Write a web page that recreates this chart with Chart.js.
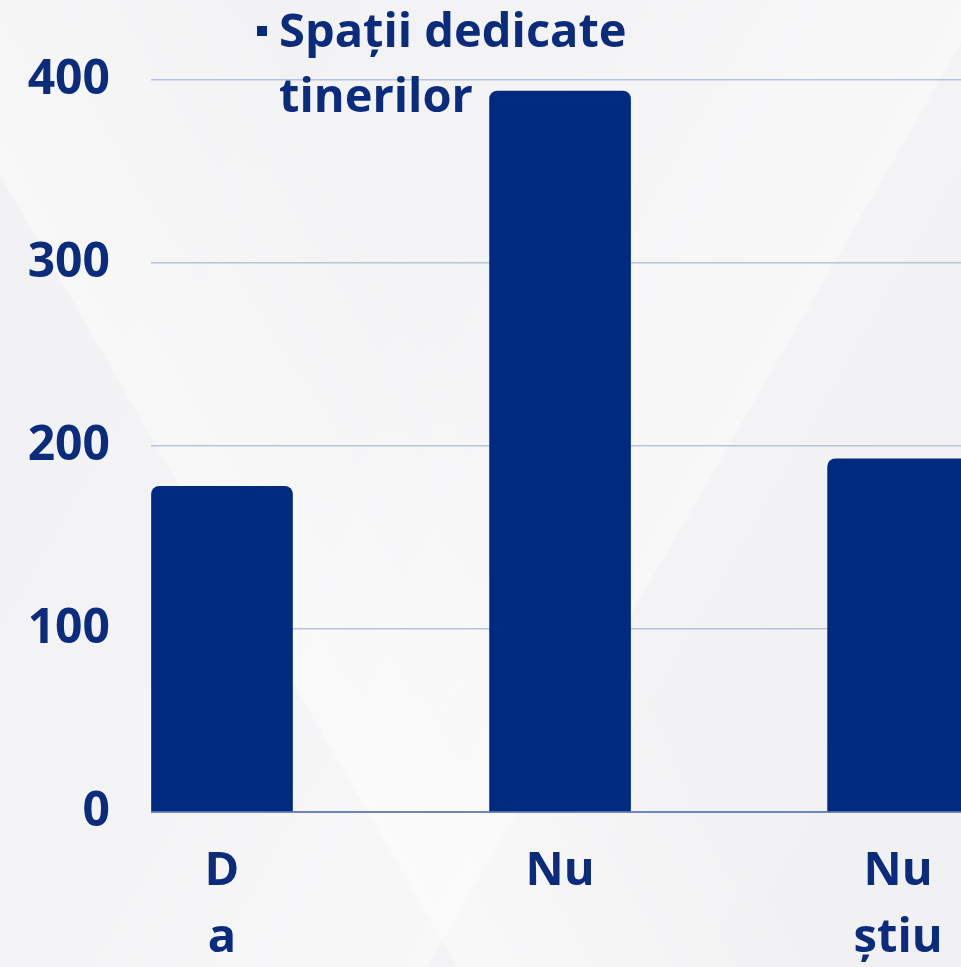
<!DOCTYPE html>
<html>
<head>
<meta charset="utf-8">
<script src="https://cdn.jsdelivr.net/npm/chart.js@4/dist/chart.umd.min.js"></script>
<style>
  html, body { margin: 0; padding: 0; }
  body {
    width: 961px; height: 967px; overflow: hidden;
    background-color: #f4f4f6;
    background-image:
      linear-gradient(60deg, rgba(255,255,255,0) 30%, rgba(255,255,255,0.45) 30.2%, rgba(255,255,255,0) 55%),
      linear-gradient(-60deg, rgba(255,255,255,0) 35%, rgba(255,255,255,0.4) 35.2%, rgba(255,255,255,0) 60%),
      linear-gradient(120deg, rgba(0,0,0,0.012) 0%, rgba(0,0,0,0) 50%, rgba(0,0,0,0.015) 100%);
  }
  #wrap { position: absolute; left: 0; top: 0; width: 961px; height: 967px; }
</style>
</head>
<body>
<div id="wrap"><canvas id="c" width="961" height="967"></canvas></div>
<script>
// ---- data ----
const categories = [['D', 'a'], 'Nu', ['Nu', 'știu']];
const values = [178, 394, 193];
const yTicks = [0, 100, 200, 300, 400];
const seriesName = 'Spații dedicate tinerilor';

// ---- style ----
const NAVY = '#002a7f';
const TEXT = '#0b2b7c';
const FONT = "'Open Sans', 'DejaVu Sans', sans-serif";

const legendPlugin = {
  id: 'customLegend',
  afterDraw(chart) {
    const ctx = chart.ctx;
    const ds = chart.data.datasets[0];
    const words = ds.label.split(' ');
    const lines = [words.slice(0, words.length - 1).join(' '), words[words.length - 1]];
    ctx.save();
    ctx.fillStyle = ds.backgroundColor;
    ctx.fillRect(257, 26, 10, 10);
    ctx.fillStyle = TEXT;
    ctx.font = "bold 47px " + FONT;
    ctx.textAlign = 'left';
    ctx.textBaseline = 'alphabetic';
    ctx.fillText(lines[0], 279, 47);
    ctx.fillText(lines[1], 279, 112);
    ctx.restore();
  }
};

new Chart(document.getElementById('c'), {
  type: 'bar',
  data: {
    datasets: [{
      label: seriesName,
      data: values.map((v, i) => ({ x: i, y: v })),
      backgroundColor: NAVY,
      borderRadius: 8,
      borderSkipped: 'start',
      barThickness: 141
    }]
  },
  options: {
    responsive: false,
    animation: false,
    devicePixelRatio: 1,
    layout: { padding: { top: 80, left: 0, right: 0, bottom: 0 } },
    plugins: { legend: { display: false }, tooltip: { enabled: false } },
    scales: {
      x: {
        type: 'linear',
        offset: false,
        min: -0.21,
        max: 2.186,
        grid: { display: false },
        border: { display: false },
        afterBuildTicks: (axis) => { axis.ticks = categories.map((_, i) => ({ value: i })); },
        afterFit: (s) => { s.height = 155; },
        ticks: {
          callback: (v) => categories[v],
          color: TEXT,
          font: { size: 47, weight: 'bold', family: FONT, lineHeight: 1.43 },
          padding: 18,
          maxRotation: 0,
          autoSkip: false
        }
      },
      y: {
        min: 0,
        max: 400,
        afterBuildTicks: (axis) => { axis.ticks = yTicks.map((v) => ({ value: v })); },
        afterFit: (s) => { s.width = 151; },
        grid: {
          color: (c) => (c.tick && c.tick.value === 0 ? '#6e86be' : '#b7c3dc'),
          lineWidth: (c) => (c.tick && c.tick.value === 0 ? 2 : 1.5),
          drawTicks: false
        },
        border: { display: false },
        ticks: {
          color: TEXT,
          font: { size: 48, weight: 'bold', family: FONT },
          padding: 41
        }
      }
    }
  },
  plugins: [legendPlugin]
});
</script>
</body>
</html>
